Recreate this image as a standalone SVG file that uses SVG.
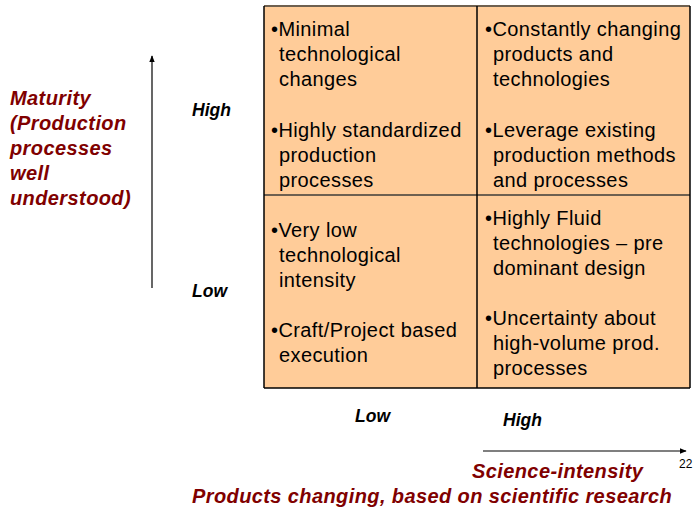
<svg xmlns="http://www.w3.org/2000/svg" width="694" height="510" viewBox="0 0 694 510">
<defs>
<style>
.t{font-family:"Liberation Sans",Arial,sans-serif;font-size:20px;letter-spacing:0.4px;fill:#000}
.ax{font-family:"Liberation Sans",Arial,sans-serif;font-size:17.5px;font-weight:bold;font-style:italic;fill:#000}
.red{font-family:"Liberation Sans",Arial,sans-serif;font-size:20px;letter-spacing:0.4px;font-weight:bold;font-style:italic;fill:#800000}
.hl{stroke:#6e6050;stroke-width:2}
.vl{stroke:#000;stroke-width:1.5}
</style>
<marker id="ah" viewBox="0 0 10 10" refX="9" refY="5" markerWidth="7" markerHeight="7" orient="auto" markerUnits="userSpaceOnUse">
<path d="M0,1 L10,5 L0,9 z" fill="#000"/>
</marker>
</defs>
<rect width="694" height="510" fill="#fff"/>
<g id="grid">
<rect x="264" y="6" width="426" height="382" fill="#ffcc99"/>
<line class="hl" x1="264" y1="6" x2="690" y2="6"/>
<line class="hl" x1="264" y1="195" x2="690" y2="195"/>
<line class="vl" x1="264" y1="388" x2="690" y2="388"/>
<line class="vl" x1="264" y1="6" x2="264" y2="388"/>
<line class="vl" x1="477" y1="6" x2="477" y2="388"/>
<line class="vl" x1="690" y1="6" x2="690" y2="388"/>
</g>
<g id="cell-high-low">
<text class="t" x="271" y="36">•Minimal</text>
<text class="t" x="279" y="61">technological</text>
<text class="t" x="279" y="86">changes</text>
<text class="t" x="271" y="137">•Highly standardized</text>
<text class="t" x="279" y="162">production</text>
<text class="t" x="279" y="187">processes</text>
</g>
<g id="cell-high-high">
<text class="t" x="485" y="36">•Constantly changing</text>
<text class="t" x="493" y="61">products and</text>
<text class="t" x="493" y="86">technologies</text>
<text class="t" x="485" y="137">•Leverage existing</text>
<text class="t" x="493" y="162">production methods</text>
<text class="t" x="493" y="187">and processes</text>
</g>
<g id="cell-low-low">
<text class="t" x="271" y="237">•Very low</text>
<text class="t" x="279" y="262">technological</text>
<text class="t" x="279" y="287">intensity</text>
<text class="t" x="271" y="337">•Craft/Project based</text>
<text class="t" x="279" y="362">execution</text>
</g>
<g id="cell-low-high">
<text class="t" x="485" y="225">•Highly Fluid</text>
<text class="t" x="493" y="250">technologies – pre</text>
<text class="t" x="493" y="275">dominant design</text>
<text class="t" x="485" y="325">•Uncertainty about</text>
<text class="t" x="493" y="350">high-volume prod.</text>
<text class="t" x="493" y="375">processes</text>
</g>
<g id="connectors">
<line x1="152" y1="288" x2="152" y2="56" stroke="#000" stroke-width="1.2" marker-end="url(#ah)"/>
<line x1="483" y1="451" x2="686" y2="451" stroke="#000" stroke-width="1.2" marker-end="url(#ah)"/>
</g>
<g id="y-axis">
<text class="red" x="10" y="105">Maturity</text>
<text class="red" x="10" y="130">(Production</text>
<text class="red" x="10" y="155">processes</text>
<text class="red" x="10" y="180">well</text>
<text class="red" x="10" y="205">understood)</text>
<text class="ax" x="192" y="116">High</text>
<text class="ax" x="192" y="297">Low</text>
</g>
<g id="x-axis">
<text class="ax" x="355" y="422">Low</text>
<text class="ax" x="503" y="426">High</text>
<text class="red" x="472" y="478">Science-intensity</text>
<text class="red" x="192" y="503">Products changing, based on scientific research</text>
<text x="679" y="468" font-family="Liberation Sans,Arial,sans-serif" font-size="12">22</text>
</g>
</svg>
